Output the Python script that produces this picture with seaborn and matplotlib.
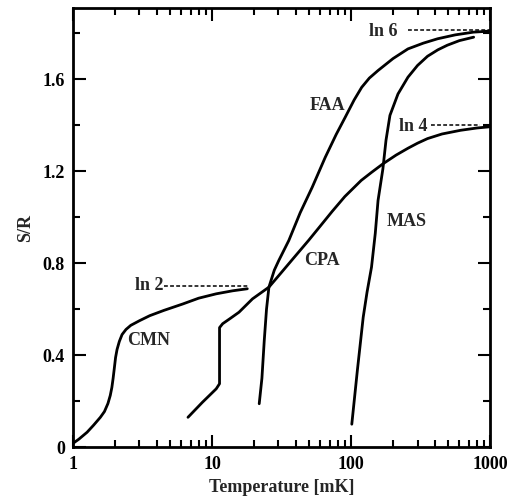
#!/usr/bin/env python3
# coding: utf-8

import numpy as np
import seaborn as sns
import matplotlib
matplotlib.use('Agg')
import matplotlib.pyplot as plt
from matplotlib.ticker import MultipleLocator, LogLocator, NullFormatter, FixedFormatter, FixedLocator


# curve data (temperature in mK, S/R)
cmn_t = [1.0, 1.1, 1.26, 1.4, 1.57, 1.68, 1.78, 1.85, 1.90, 1.94, 1.98, 2.02, 2.07, 2.15,
         2.25, 2.4, 2.6, 3.0, 3.56, 4.5, 6.16, 8.0, 10.7, 14.0, 17.9]
cmn_s = [0.017, 0.035, 0.065, 0.095, 0.13, 0.155, 0.19, 0.225, 0.26, 0.30, 0.345, 0.39, 0.425, 0.46,
         0.49, 0.512, 0.53, 0.55, 0.572, 0.595, 0.623, 0.648, 0.667, 0.68, 0.689]

cpa_t = [6.7, 8.5, 10.7, 11.3, 11.3, 11.9, 13.5, 15.6, 19.5, 25.6, 31, 37.6, 49.5, 60, 72.9,
         90, 118, 140, 169, 210, 256, 300, 354, 450, 611, 800, 980]
cpa_s = [0.13, 0.195, 0.254, 0.276, 0.52, 0.537, 0.56, 0.587, 0.645, 0.696, 0.755, 0.815, 0.90,
         0.962, 1.025, 1.09, 1.16, 1.195, 1.232, 1.27, 1.30, 1.322, 1.342, 1.362, 1.378, 1.388, 1.393]

faa_t = [21.8, 22.8, 23.7, 24.6, 25.6, 28, 30.1, 35.6, 43, 52.4, 65, 78, 90.6, 105, 119, 135,
         156, 200, 256, 330, 418, 560, 760, 980]
faa_s = [0.189, 0.30, 0.464, 0.60, 0.696, 0.77, 0.811, 0.899, 1.02, 1.13, 1.26, 1.36, 1.435,
         1.51, 1.565, 1.605, 1.638, 1.69, 1.732, 1.757, 1.776, 1.793, 1.805, 1.809]

mas_t = [101, 110.8, 122, 130, 140, 149, 156, 169, 178, 190, 217, 256, 300, 354, 420, 491, 600, 760]
mas_s = [0.10, 0.335, 0.565, 0.674, 0.783, 0.93, 1.073, 1.21, 1.335, 1.443, 1.536, 1.609, 1.66,
         1.70, 1.728, 1.748, 1.768, 1.783]

# dashed limit lines
limit_names = ['ln 2', 'ln 4', 'ln 6']
limit_s = [0.70, 1.399, 1.816]
limit_t0 = [4.54, 373, 255]
limit_t1 = [18.4, 850, 1000]
limit_label_t = [3.51, 280, 171]
limit_label_s = [0.701, 1.393, 1.806]

curve_names = ['CMN', 'CPA', 'FAA', 'MAS']
label_t = [3.51, 62.0, 67.5, 249]
label_s = [0.465, 0.813, 1.484, 0.98]


sns.set_style('ticks')
plt.rcParams['font.family'] = ['Liberation Serif', 'DejaVu Serif']
plt.rcParams['font.weight'] = 'bold'
plt.rcParams['axes.labelweight'] = 'bold'

fig = plt.figure(figsize=(5.26, 4.98), dpi=100)
ax = fig.add_axes([0.139, 0.102, 0.793, 0.882])

for t, s in [(cmn_t, cmn_s), (cpa_t, cpa_s), (faa_t, faa_s), (mas_t, mas_s)]:
    sns.lineplot(x=t, y=s, ax=ax, color='black', linewidth=2.0,
                 estimator=None, sort=False)

for s, t0, t1 in zip(limit_s, limit_t0, limit_t1):
    ax.plot([t0, t1], [s, s], color='black', linewidth=1.1, linestyle=(0, (2.5, 1.5)))

for name, t, s in zip(curve_names, label_t, label_s):
    ax.text(t, s, name, ha='center', va='center', fontsize=13)
for name, t, s in zip(limit_names, limit_label_t, limit_label_s):
    ax.text(t, s, name, ha='center', va='center', fontsize=13)

ax.set_xscale('log')
ax.set_xlim(1, 1000)
ax.set_ylim(0, 1.91)

ax.xaxis.set_major_locator(FixedLocator([1, 10, 100, 1000]))
ax.xaxis.set_major_formatter(FixedFormatter(['1', '10', '100', '1000']))
ax.xaxis.set_minor_locator(LogLocator(base=10, subs=np.arange(2, 10)))
ax.xaxis.set_minor_formatter(NullFormatter())
ax.set_yticks([0, 0.4, 0.8, 1.2, 1.6])
ax.set_yticklabels(['0', '0.4', '0.8', '1.2', '1.6'])
ax.yaxis.set_minor_locator(MultipleLocator(0.2))

ax.tick_params(which='both', direction='in', top=True, right=True, width=1.5,
               labelsize=13, colors='black')
ax.tick_params(which='major', length=9, pad=6)
ax.tick_params(which='minor', length=5)
for sp in ax.spines.values():
    sp.set_linewidth(2.0)
    sp.set_color('black')

ax.set_xlabel('Temperature [mK]', fontsize=13, labelpad=5)
ax.set_ylabel('S/R', fontsize=13, labelpad=6)

plt.savefig('out.png', dpi=100)
